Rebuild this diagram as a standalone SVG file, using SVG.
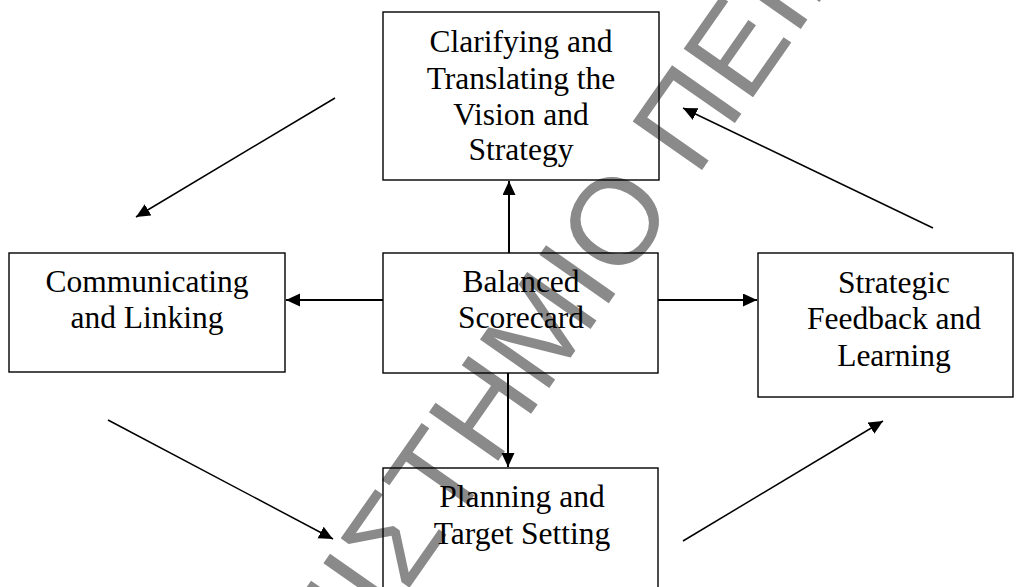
<svg xmlns="http://www.w3.org/2000/svg" width="1021" height="587" viewBox="0 0 1021 587">
  <style>
    .box { fill: none; stroke: #000; stroke-width: 1.4; }
    .lbl { font-family: "Liberation Serif", "Times New Roman", serif; font-size: 31.5px; fill: #000; text-anchor: middle; }
    .wm { font-family: "Liberation Sans", Arial, sans-serif; font-size: 123px; fill: #8a8a8a; }
    .edge { fill: none; stroke: #000; stroke-width: 2; }
    .diag { fill: none; stroke: #000; stroke-width: 1.5; }
  </style>
  <defs>
    <marker id="head" markerUnits="userSpaceOnUse" markerWidth="16" markerHeight="14" refX="14" refY="6.5" orient="auto">
      <path d="M0,0 L14,6.5 L0,13 z" fill="#000"/>
    </marker>
  </defs>
  <rect width="1021" height="587" fill="#fff"/>

  <!-- background watermark, drawn first so lines and labels sit on top -->
  <g id="watermark" transform="translate(702,170) rotate(-55)">
    <text class="wm" x="-44" y="0" text-anchor="end">ΠΑΝΕΠΙΣΤΗΜΙΟ</text>
    <text class="wm" x="-10" y="0" text-anchor="start">ΠΕΙΡΑΙΩΣ</text>
  </g>

  <g id="connectors">
    <line class="edge" x1="509" y1="253" x2="509" y2="181" marker-end="url(#head)"/>
    <line class="edge" x1="383" y1="300" x2="286" y2="300" marker-end="url(#head)"/>
    <line class="edge" x1="658" y1="300" x2="757" y2="300" marker-end="url(#head)"/>
    <line class="edge" x1="508" y1="373" x2="508" y2="467" marker-end="url(#head)"/>
    <line class="diag" x1="335" y1="98" x2="136" y2="217" marker-end="url(#head)"/>
    <line class="diag" x1="933" y1="228" x2="683" y2="108" marker-end="url(#head)"/>
    <line class="diag" x1="108" y1="420" x2="333" y2="539" marker-end="url(#head)"/>
    <line class="diag" x1="683" y1="541" x2="883" y2="421" marker-end="url(#head)"/>
  </g>

  <g id="vision">
    <rect class="box" x="383" y="12" width="276" height="168"/>
    <text class="lbl" x="521" y="52">Clarifying and</text>
    <text class="lbl" x="521" y="89">Translating the</text>
    <text class="lbl" x="521" y="125">Vision and</text>
    <text class="lbl" x="521" y="160">Strategy</text>
  </g>

  <g id="communicating">
    <rect class="box" x="9" y="253" width="276" height="119"/>
    <text class="lbl" x="147" y="292">Communicating</text>
    <text class="lbl" x="147" y="328">and Linking</text>
  </g>

  <g id="scorecard">
    <rect class="box" x="383" y="253" width="275" height="120"/>
    <text class="lbl" x="521" y="292">Balanced</text>
    <text class="lbl" x="521" y="328">Scorecard</text>
  </g>

  <g id="feedback">
    <rect class="box" x="758" y="253" width="255" height="144"/>
    <text class="lbl" x="894" y="293">Strategic</text>
    <text class="lbl" x="894" y="329">Feedback and</text>
    <text class="lbl" x="894" y="366">Learning</text>
  </g>

  <g id="planning">
    <rect class="box" x="383" y="468" width="275" height="130"/>
    <text class="lbl" x="522" y="507">Planning and</text>
    <text class="lbl" x="522" y="544">Target Setting</text>
  </g>
</svg>
